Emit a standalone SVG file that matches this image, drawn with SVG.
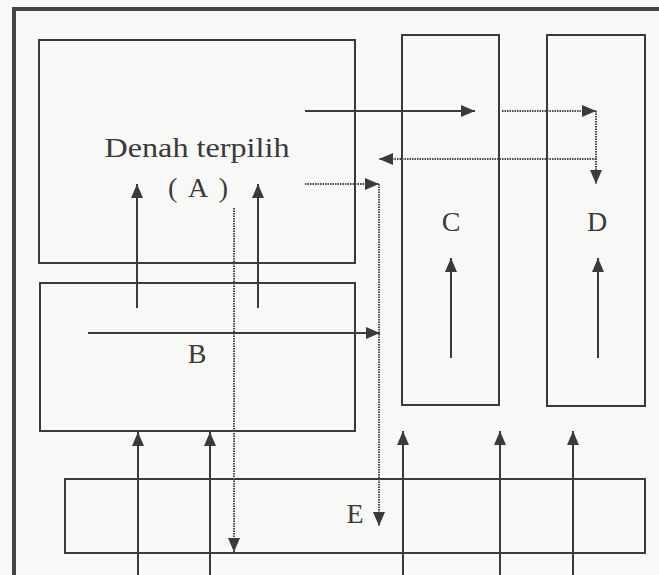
<svg xmlns="http://www.w3.org/2000/svg" width="659" height="575" viewBox="0 0 659 575">
<defs>
<style>
.box{fill:none;stroke:#3a3a3a;stroke-width:2}
.sol{fill:none;stroke:#3a3a3a;stroke-width:2}
.dot{fill:none;stroke:#4a4a4a;stroke-width:2;stroke-dasharray:1.5 1}
.lbl{font-family:"Liberation Serif","Times New Roman",serif;fill:#3a3a3a;font-size:28px;text-anchor:middle}
</style>
<marker id="ah" viewBox="0 0 14 12" refX="14" refY="6" markerWidth="14" markerHeight="12" markerUnits="userSpaceOnUse" orient="auto">
<path d="M0,0 L14,6 L0,12 Z" fill="#3a3a3a"/>
</marker>
</defs>
<rect width="659" height="575" fill="#f8f8f6"/>
<g id="frame">
<path d="M14,575 V9 H659" fill="none" stroke="#444" stroke-width="4"/>
</g>
<g id="A">
<rect class="box" x="39" y="40" width="316" height="223"/>
<text class="lbl" x="197" y="157" font-size="30" textLength="185" lengthAdjust="spacingAndGlyphs">Denah terpilih</text>
<text class="lbl" x="198" y="197" font-size="30" textLength="60" lengthAdjust="spacing">( A )</text>
</g>
<g id="B">
<rect class="box" x="40" y="283" width="315" height="148"/>
<text class="lbl" x="197" y="363">B</text>
</g>
<g id="C">
<rect class="box" x="402" y="35" width="97" height="370"/>
<text class="lbl" x="451" y="231">C</text>
</g>
<g id="D">
<rect class="box" x="547" y="35" width="98" height="371"/>
<text class="lbl" x="597" y="231">D</text>
</g>
<g id="E">
<rect class="box" x="65" y="479" width="580" height="74"/>
<text class="lbl" x="355" y="523">E</text>
</g>
<g id="connectors">
<line class="sol" x1="305" y1="111" x2="475" y2="111" marker-end="url(#ah)"/>
<line class="dot" x1="502" y1="111" x2="596" y2="111" marker-end="url(#ah)"/>
<line class="dot" x1="596" y1="111" x2="596" y2="184" marker-end="url(#ah)"/>
<line class="dot" x1="596" y1="159" x2="379" y2="159" marker-end="url(#ah)"/>
<line class="dot" x1="305" y1="184" x2="379" y2="184" marker-end="url(#ah)"/>
<line class="dot" x1="379" y1="184" x2="379" y2="526" marker-end="url(#ah)"/>
<line class="sol" x1="137" y1="308" x2="137" y2="184" marker-end="url(#ah)"/>
<line class="sol" x1="258" y1="308" x2="258" y2="184" marker-end="url(#ah)"/>
<line class="dot" x1="234" y1="208" x2="234" y2="552" marker-end="url(#ah)"/>
<line class="sol" x1="88" y1="333" x2="380" y2="333" marker-end="url(#ah)"/>
<line class="sol" x1="451" y1="358" x2="451" y2="258" marker-end="url(#ah)"/>
<line class="sol" x1="598" y1="358" x2="598" y2="258" marker-end="url(#ah)"/>
<line class="sol" x1="138" y1="575" x2="138" y2="432" marker-end="url(#ah)"/>
<line class="sol" x1="210" y1="575" x2="210" y2="432" marker-end="url(#ah)"/>
<line class="sol" x1="403" y1="575" x2="403" y2="431" marker-end="url(#ah)"/>
<line class="sol" x1="500" y1="575" x2="500" y2="431" marker-end="url(#ah)"/>
<line class="sol" x1="573" y1="575" x2="573" y2="431" marker-end="url(#ah)"/>
</g>
</svg>
